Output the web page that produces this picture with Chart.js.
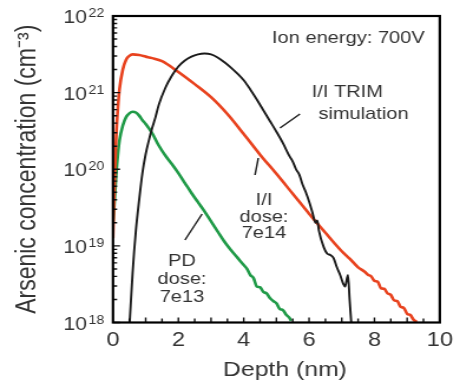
<!DOCTYPE html>
<html>
<head>
<meta charset="utf-8">
<script src="https://cdn.jsdelivr.net/npm/chart.js@4/dist/chart.umd.min.js"></script>
<style>
  html, body { margin: 0; padding: 0; background: #fff; }
</style>
</head>
<body>
<!-- the figure's lettering is stretched sideways, so the 390px canvas is shown 460px wide -->
<canvas id="chart" width="390" height="381" style="display:block;width:460px;height:381px"></canvas>
<script>
const fontFamily = "'Liberation Sans', Arial, Helvetica, sans-serif";

// I/I, dose 7e14 (red)
const iiDepth = [0, 0.05, 0.1, 0.15, 0.2, 0.3, 0.4, 0.5, 0.6, 0.8, 1.0, 1.2, 1.5, 2.0, 2.5, 3.0, 3.5, 4.0, 4.5, 5.0, 5.5, 6.0, 6.5, 7.0, 7.25,
  7.5, 7.6, 7.7, 7.8, 7.9, 8.0, 8.1, 8.2, 8.3, 8.4, 8.5, 8.6, 8.7, 8.8, 8.9, 9.0, 9.1, 9.2, 9.3];
const iiConc = [1.26e19, 7.94e19, 2.82e20, 6.31e20, 1.12e21, 2.0e21, 2.69e21, 3.02e21, 3.16e21, 3.09e21, 2.95e21, 2.82e21, 2.57e21,
  1.86e21, 1.29e21, 8.71e20, 5.25e20, 2.88e20, 1.55e20, 8.71e19, 4.79e19, 2.63e19, 1.48e19, 8.51e18, 6.76e18,
  5.25e18, 4.9e18, 4.6e18, 4.2e18, 4.0e18, 3.5e18, 3.4e18, 2.8e18, 2.75e18, 2.4e18, 2.3e18, 1.95e18, 1.9e18, 1.6e18, 1.55e18,
  1.3e18, 1.25e18, 1.08e18, 1.02e18];

// PD, dose 7e13 (green)
const pdDepth = [0, 0.05, 0.1, 0.15, 0.2, 0.3, 0.4, 0.5, 0.6, 0.7, 0.8, 0.9, 1.0, 1.2, 1.4, 1.6, 1.8, 2.0, 2.2, 2.4, 2.6, 2.8, 3.0,
  3.2, 3.4, 3.6, 3.8, 4.0, 4.1, 4.2, 4.3, 4.4, 4.5, 4.6, 4.7, 4.8, 4.9, 5.0, 5.1, 5.2, 5.3, 5.4, 5.45];
const pdConc = [2.0e19, 3.98e19, 8.91e19, 1.58e20, 2.4e20, 3.72e20, 4.79e20, 5.37e20, 5.62e20, 5.5e20, 5.01e20, 4.37e20, 3.89e20,
  2.95e20, 2.04e20, 1.51e20, 1.17e20, 8.91e19, 6.61e19, 4.9e19, 3.72e19, 2.82e19, 2.09e19, 1.55e19, 1.15e19, 8.91e18, 7.08e18,
  5.62e18, 5.01e18, 4.17e18, 3.8e18, 2.95e18, 2.88e18, 2.51e18, 2.4e18, 2.09e18, 1.91e18, 1.78e18, 1.51e18, 1.45e18, 1.26e18,
  1.15e18, 1.05e18];

// I/I TRIM simulation (black)
const trimDepth = [0.51, 0.6, 0.7, 0.8, 0.9, 1.0, 1.1, 1.2, 1.3, 1.4, 1.6, 1.8, 2.0, 2.2, 2.4, 2.6, 2.8, 3.0, 3.2, 3.4, 3.6, 3.8,
  4.0, 4.2, 4.4, 4.6, 4.8, 5.0, 5.2, 5.4, 5.5, 5.6, 5.7, 5.8, 5.9, 6.0, 6.1, 6.2, 6.25, 6.3, 6.45, 6.55, 6.65, 6.75, 6.85, 6.95,
  7.05, 7.1, 7.19, 7.24, 7.29];
const trimConc = [1.0e18, 4.47e18, 1.58e19, 3.98e19, 8.91e19, 1.58e20, 2.4e20, 3.47e20, 4.79e20, 6.92e20, 1.15e21, 1.66e21,
  2.19e21, 2.63e21, 2.95e21, 3.16e21, 3.24e21, 3.16e21, 2.88e21, 2.51e21, 2.14e21, 1.78e21, 1.45e21, 1.1e21, 8.13e20, 5.89e20,
  4.27e20, 3.09e20, 2.19e20, 1.48e20, 1.26e20, 1.0e20, 8.51e19, 6.31e19, 5.01e19, 3.8e19, 2.75e19, 2.0e19, 2.14e19, 1.58e19,
  9.55e18, 7.94e18, 7.59e18, 6.92e18, 5.25e18, 4.17e18, 3.16e18, 2.95e18, 4.17e18, 2.0e18, 1.0e18];

const xTickValues = [0, 2, 4, 6, 8, 10];
const yDecades = [18, 19, 20, 21, 22];

const toPoints = (xs, ys) => xs.map((x, i) => ({ x: x, y: ys[i] }));

// text and pointer lines (canvas pixels, before the sideways stretch)
const notes = [
  { text: 'Ion energy: 700V', x: 230.6, y: 43, align: 'left' },
  { text: 'I/I TRIM', x: 264.3, y: 96.5, align: 'left' },
  { text: 'simulation', x: 269.9, y: 119, align: 'left' },
  { text: 'I/I', x: 223.8, y: 205, align: 'center' },
  { text: 'dose:', x: 223.8, y: 222, align: 'center' },
  { text: '7e14', x: 223.8, y: 238, align: 'center' },
  { text: 'PD', x: 154.3, y: 266, align: 'center' },
  { text: 'dose:', x: 154.3, y: 284, align: 'center' },
  { text: '7e13', x: 154.3, y: 302, align: 'center' },
  { text: 'Depth (nm)', x: 241.6, y: 376, align: 'center', size: 21 }
];
const pointers = [
  [237.4, 128, 254.3, 114],
  [219.0, 158, 216.2, 175],
  [171.3, 214, 156.8, 240]
];

const decor = {
  id: 'decor',
  afterDraw(chart) {
    const { ctx, chartArea: a, scales: { x, y } } = chart;
    ctx.save();

    // inward tick marks
    ctx.strokeStyle = '#111';
    ctx.lineWidth = 1.4;
    ctx.beginPath();
    for (let v = 0.5; v < 10; v += 0.5) {
      const px = x.getPixelForValue(v);
      ctx.moveTo(px, a.bottom);
      ctx.lineTo(px, a.bottom - (Number.isInteger(v) ? 5 : 4));
    }
    yDecades.slice(0, -1).forEach(d => {
      for (let m = 1; m <= 9; m++) {
        const py = y.getPixelForValue(m * Math.pow(10, d));
        ctx.moveTo(a.left, py);
        ctx.lineTo(a.left + (m === 1 ? 6 : 3.5), py);
      }
    });
    ctx.stroke();

    // frame
    ctx.strokeStyle = '#000';
    ctx.lineWidth = 2.2;
    ctx.strokeRect(a.left, a.top, a.right - a.left, a.bottom - a.top);

    // y tick labels 10^n
    ctx.fillStyle = '#333';
    ctx.textBaseline = 'alphabetic';
    yDecades.forEach(d => {
      const py = y.getPixelForValue(Math.pow(10, d));
      ctx.font = '18px ' + fontFamily;
      ctx.textAlign = 'right';
      ctx.fillText('10', 73.8, py + 7);
      ctx.font = '12px ' + fontFamily;
      ctx.textAlign = 'left';
      ctx.fillText(String(d), 75, py + 1);
    });

    // annotations
    notes.forEach(n => {
      ctx.font = (n.size || 17) + 'px ' + fontFamily;
      ctx.textAlign = n.align;
      ctx.fillText(n.text, n.x, n.y);
    });
    ctx.strokeStyle = '#222';
    ctx.lineWidth = 1.5;
    ctx.beginPath();
    pointers.forEach(p => {
      ctx.moveTo(p[0], p[1]);
      ctx.lineTo(p[2], p[3]);
    });
    ctx.stroke();

    ctx.restore();
  }
};

new Chart(document.getElementById('chart'), {
  type: 'line',
  data: {
    datasets: [
      { label: 'I/I TRIM simulation', data: toPoints(trimDepth, trimConc), borderColor: '#1a1a1a', borderWidth: 1.9 },
      { label: 'I/I dose 7e14', data: toPoints(iiDepth, iiConc), borderColor: '#e8421e', borderWidth: 2.6 },
      { label: 'PD dose 7e13', data: toPoints(pdDepth, pdConc), borderColor: '#1f9a47', borderWidth: 2.6 }
    ]
  },
  options: {
    responsive: false,
    animation: false,
    devicePixelRatio: 1,
    layout: { padding: { top: 16, right: 12.7, left: 0, bottom: 0 } },
    elements: {
      point: { radius: 0 },
      line: { cubicInterpolationMode: 'monotone', fill: false }
    },
    plugins: { legend: { display: false }, tooltip: { enabled: false } },
    scales: {
      x: {
        type: 'linear',
        min: 0,
        max: 10,
        afterBuildTicks: s => { s.ticks = xTickValues.map(v => ({ value: v })); },
        afterFit: s => { s.height = 58.5; },
        grid: { display: false, drawTicks: false },
        border: { display: false },
        ticks: { padding: 6, color: '#333', font: { family: fontFamily, size: 20 } }
      },
      y: {
        type: 'logarithmic',
        min: 1e18,
        max: 1e22,
        afterFit: s => { s.width = 95.8; },
        grid: { display: false, drawTicks: false },
        border: { display: false },
        ticks: { display: false },
        title: {
          display: true,
          text: 'Arsenic concentration (cm\u207B\u00B3)',
          color: '#333',
          padding: { top: 10, bottom: 0 },
          font: { family: fontFamily, size: 23, lineHeight: 1.2 }
        }
      }
    }
  },
  plugins: [decor]
});
</script>
</body>
</html>
